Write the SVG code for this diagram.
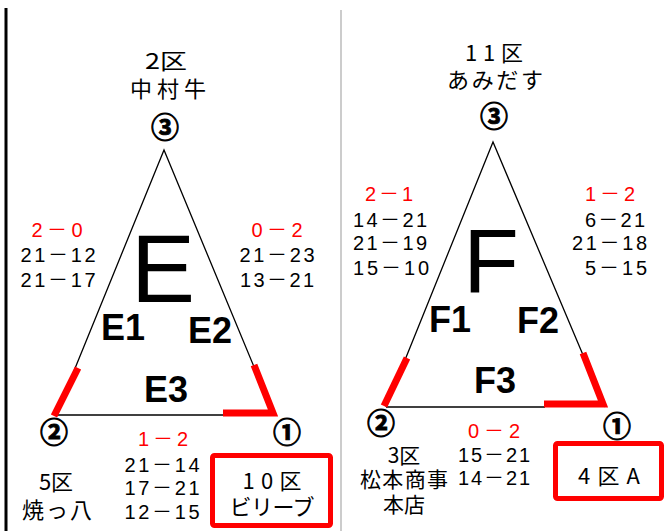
<svg xmlns="http://www.w3.org/2000/svg" width="668" height="531" viewBox="0 0 668 531">
<style>
.t{font-family:"Liberation Sans","Noto Sans CJK JP",sans-serif;fill:#000;text-anchor:middle}
.j{font-family:"Noto Sans CJK JP","Liberation Sans",sans-serif;fill:#000;text-anchor:middle}
.s{font-size:20px}
.k{font-size:22px}
.r{fill:#ff0000}
.c{font-size:28px;font-weight:bold;stroke:#000;stroke-width:0.9}
.lab{font-size:36px;font-weight:bold}
.tri{fill:none;stroke:#000;stroke-width:1.3}
.red{fill:none;stroke:#ff0000;stroke-width:7;stroke-linejoin:miter}
.box{fill:none;stroke:#ff0000;stroke-width:5}
</style>
<rect width="668" height="531" fill="#fff"/>
<line x1="6" y1="8" x2="6" y2="531" stroke="#000" stroke-width="3"/>
<line x1="341" y1="10" x2="341" y2="531" stroke="#cccccc" stroke-width="2"/>
<g id="connectors">
<polyline class="tri" points="56,415 164,150 274,415"/>
<line class="tri" x1="56" y1="415" x2="224" y2="415"/>
<polyline class="tri" points="386,407 493,142 605,407"/>
<line class="tri" x1="386" y1="407" x2="545" y2="407"/>
<line class="red" x1="78" y1="368" x2="54" y2="416"/>
<polyline class="red" points="254,365 273,413 223,413"/>
<line class="red" x1="407" y1="358" x2="384" y2="406"/>
<polyline class="red" points="583,353 603,404 544,404"/>
</g>
<g id="E-top">
<text class="j k" x="166" y="69" textLength="42" lengthAdjust="spacingAndGlyphs">2区</text>
<text class="j k" x="168" y="97" textLength="76" lengthAdjust="spacing">中村牛</text>
<text class="j c" x="165" y="138">③</text>
</g>
<g id="E-left">
<text class="t s r" x="57" y="237" textLength="51" lengthAdjust="spacing">2－0</text>
<text class="t s" x="58" y="262" textLength="75" lengthAdjust="spacing">21－12</text>
<text class="t s" x="58" y="287" textLength="75" lengthAdjust="spacing">21－17</text>
</g>
<g id="E-right">
<text class="t s r" x="277" y="237" textLength="51" lengthAdjust="spacing">0－2</text>
<text class="t s" x="277" y="262" textLength="75" lengthAdjust="spacing">21－23</text>
<text class="t s" x="277" y="287" textLength="74" lengthAdjust="spacing">13－21</text>
</g>
<g id="E-labels">
<text class="t" x="163" y="302" font-size="96">E</text>
<text class="t lab" x="123" y="340">E1</text>
<text class="t lab" x="210" y="343">E2</text>
<text class="t lab" x="166" y="402">E3</text>
</g>
<g id="E-bottom">
<text class="j c" x="54" y="443">②</text>
<text class="j c" x="287" y="443">①</text>
<text class="t s r" x="163" y="446" textLength="50" lengthAdjust="spacing">1－2</text>
<text class="t s" x="162" y="472" textLength="75" lengthAdjust="spacing">21－14</text>
<text class="t s" x="162" y="495" textLength="75" lengthAdjust="spacing">17－21</text>
<text class="t s" x="162" y="519" textLength="75" lengthAdjust="spacing">12－15</text>
<text class="j k" x="56" y="490">5区</text>
<text class="j k" x="57" y="518" textLength="70" lengthAdjust="spacing">焼っ八</text>
</g>
<g id="E-winner">
<rect class="box" x="212.5" y="455.5" width="118" height="70" rx="2"/>
<text class="j k" x="272" y="489" textLength="59" lengthAdjust="spacing">10区</text>
<text class="j k" x="272" y="515" textLength="85" lengthAdjust="spacing">ビリーブ</text>
</g>
<g id="F-top">
<text class="j k" x="494" y="61" textLength="58" lengthAdjust="spacing">11区</text>
<text class="j k" x="495" y="88" textLength="96" lengthAdjust="spacing">あみだす</text>
<text class="j c" x="494" y="127">③</text>
</g>
<g id="F-left">
<text class="t s r" x="389" y="201" textLength="48" lengthAdjust="spacing">2－1</text>
<text class="t s" x="390" y="227" textLength="74" lengthAdjust="spacing">14－21</text>
<text class="t s" x="390" y="250" textLength="74" lengthAdjust="spacing">21－19</text>
<text class="t s" x="391" y="275" textLength="76" lengthAdjust="spacing">15－10</text>
</g>
<g id="F-right">
<text class="t s r" x="610" y="201" textLength="50" lengthAdjust="spacing">1－2</text>
<text class="t s" x="615" y="227" textLength="60" lengthAdjust="spacing">6－21</text>
<text class="t s" x="609.5" y="250" textLength="75" lengthAdjust="spacing">21－18</text>
<text class="t s" x="616" y="275" textLength="62" lengthAdjust="spacing">5－15</text>
</g>
<g id="F-labels">
<text class="t" x="491" y="292" font-size="91">F</text>
<text class="t lab" x="450" y="332">F1</text>
<text class="t lab" x="538" y="333">F2</text>
<text class="t lab" x="495" y="393">F3</text>
</g>
<g id="F-bottom">
<text class="j c" x="381" y="434">②</text>
<text class="j c" x="617" y="437">①</text>
<text class="t s r" x="494" y="438" textLength="52" lengthAdjust="spacing">0－2</text>
<text class="t s" x="494" y="462" textLength="72" lengthAdjust="spacing">15－21</text>
<text class="t s" x="494" y="485" textLength="72" lengthAdjust="spacing">14－21</text>
<text class="j" x="404" y="463" font-size="21">3区</text>
<text class="j" x="404" y="487" font-size="21" textLength="88" lengthAdjust="spacing">松本商事</text>
<text class="j" x="404" y="512" font-size="21">本店</text>
</g>
<g id="F-winner">
<rect class="box" x="555.5" y="443.5" width="106" height="55" rx="2"/>
<text class="j k" x="609" y="484" textLength="62" lengthAdjust="spacing">4区A</text>
</g>
</svg>
